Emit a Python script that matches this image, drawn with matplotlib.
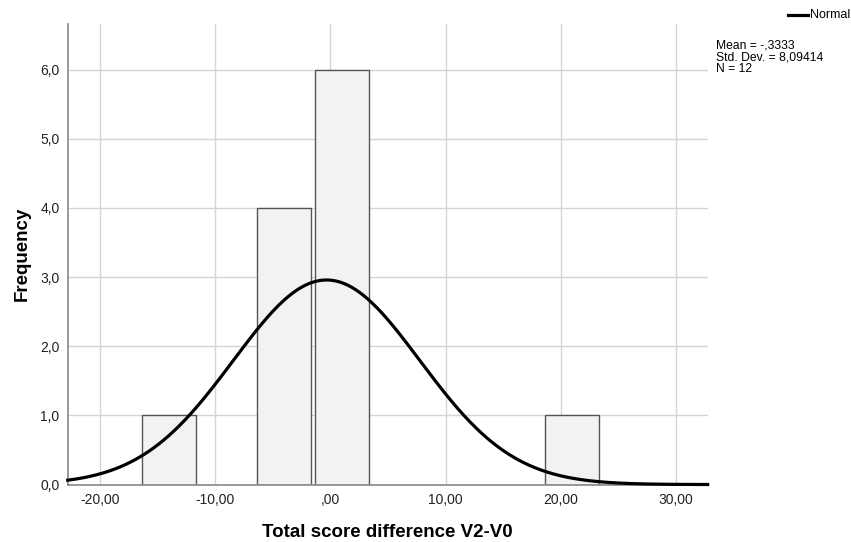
import numpy as np
import matplotlib.pyplot as plt
from matplotlib.ticker import FuncFormatter

plt.rcParams['font.family'] = ['Liberation Sans', 'DejaVu Sans']

# Histogram bins (width 5) and their counts
bin_centers = [-14, -4, 1, 21]
counts = [1, 4, 6, 1]
bin_width = 5

# Summary statistics of the variable
mean = -0.3333
std = 8.09414
n = 12

x_ticks = [-20, -10, 0, 10, 20, 30]
y_ticks = [0, 1, 2, 3, 4, 5, 6]


def x_fmt(v, pos):
    # SPSS style: comma decimals, leading zero dropped
    s = f'{v:.2f}'.replace('.', ',')
    if s.startswith('0,'):
        s = s[1:]
    return s


def y_fmt(v, pos):
    return f'{v:.1f}'.replace('.', ',')


fig = plt.figure(figsize=(8.51, 5.42), dpi=100)
ax = fig.add_axes([0.0796, 0.106, 0.752, 0.85])

xlim = (-22.8, 32.75)
ax.set_xlim(*xlim)
ax.set_ylim(0, 6.66)

ax.grid(True, color='#d4d4d4', linewidth=1.0)
ax.set_axisbelow(True)

ax.bar(bin_centers, counts, width=bin_width * 0.94, color='#f2f2f2',
       edgecolor='#555555', linewidth=1.0, zorder=2)

# Normal curve scaled to counts
xs = np.linspace(xlim[0], xlim[1], 400)
ys = n * bin_width / (std * np.sqrt(2 * np.pi)) * np.exp(-0.5 * ((xs - mean) / std) ** 2)
ax.plot(xs, ys, color='black', linewidth=2.3, zorder=3, clip_on=False)

ax.set_xticks(x_ticks)
ax.set_yticks(y_ticks)
ax.xaxis.set_major_formatter(FuncFormatter(x_fmt))
ax.yaxis.set_major_formatter(FuncFormatter(y_fmt))
ax.tick_params(length=0, labelsize=10, colors='#222222', pad=6)

for side in ['top', 'right']:
    ax.spines[side].set_visible(False)
for side in ['left', 'bottom']:
    ax.spines[side].set_color('#888888')
    ax.spines[side].set_linewidth(1.2)

ax.set_xlabel('Total score difference V2-V0', fontsize=13.5, fontweight='bold', labelpad=12)
ax.set_ylabel('Frequency', fontsize=13.5, fontweight='bold', labelpad=7)

# Legend and statistics box on the right
fig.lines.append(plt.Line2D([788 / 851, 808 / 851], [1 - 15 / 542, 1 - 15 / 542],
                            transform=fig.transFigure, color='black', linewidth=2.3))
fig.text(810 / 851, 1 - 15 / 542, 'Normal', fontsize=9, va='center', ha='left')
stats = f'Mean = -,3333\nStd. Dev. = 8,09414\nN = {n}'
fig.text(716 / 851, 1 - 40 / 542, stats, fontsize=8.7, va='top', ha='left', linespacing=0.95)

fig.savefig('out.png', dpi=100)
